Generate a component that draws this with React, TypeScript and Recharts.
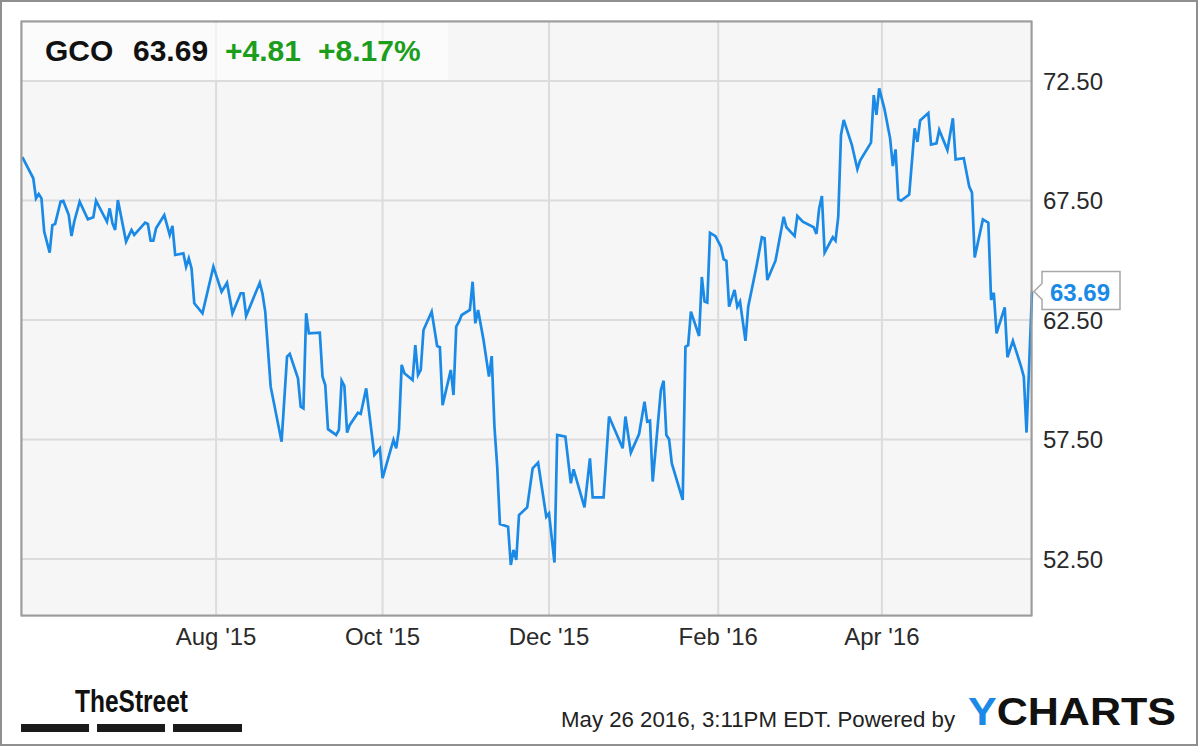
import React from 'react';
import { LineChart, Line, XAxis, YAxis, CartesianGrid, ReferenceDot } from 'recharts';

// days since May 22 2015, one per visible vertex of the price line
const tradingDays = [
  0, 4, 5, 6, 7, 8, 10, 11, 12, 14, 15, 17, 18, 19, 21, 24, 26, 27, 31, 32, 33, 34, 35, 38, 40, 41,
  45, 46, 47, 48, 49, 52, 54, 55, 56, 59, 60, 61, 62, 63, 66, 70, 73, 75, 77, 80, 81, 82, 87, 88, 89,
  91, 95, 97, 98, 101, 102, 103, 104, 105, 109, 110, 111, 112, 115, 116, 117, 118, 119, 120, 123, 124,
  126, 129, 131, 132, 136, 137, 138, 139, 140, 143, 144, 145, 146, 147, 150, 152, 153, 154, 157, 158,
  159, 160, 161, 164, 165, 166, 167, 169, 171, 172, 173, 174, 175, 178, 179, 180, 181, 182, 185, 187,
  189, 192, 193, 195, 196, 199, 201, 202, 206, 208, 209, 213, 215, 220, 221, 223, 226, 228, 229, 230,
  231, 234, 235, 236, 237, 238, 242, 243, 244, 245, 248, 249, 250, 251, 252, 254, 256, 257, 258, 259,
  261, 262, 263, 265, 266, 269, 271, 272, 273, 276, 279, 280, 283, 284, 286, 290, 291, 292, 293, 294,
  297, 298, 299, 300, 301, 304, 306, 307, 311, 312, 313, 314, 316, 318, 319, 320, 321, 322, 325, 327,
  328, 329, 332, 333, 335, 336, 339, 341, 342, 345, 347, 348, 349, 352, 354, 355, 356, 357, 360, 361,
  363, 366, 367, 368, 370,
];

const closePrices = [
  69.31, 68.43, 67.59, 67.77, 67.59, 66.2, 65.32, 66.47, 66.52, 67.45, 67.48, 66.89, 66.01, 66.61, 67.45,
  66.71, 66.8, 67.49, 66.61, 67.17, 66.55, 66.27, 67.52, 65.78, 66.27, 66.06,
  66.57, 66.52, 65.82, 65.82, 66.34, 66.89, 66.06, 66.44, 65.22, 65.29, 64.73, 65.08, 64.66, 63.2, 62.78,
  64.73, 63.68, 64.06, 62.78, 63.62, 63.62, 62.67, 64.06, 63.6, 62.85,
  59.71, 57.41, 60.97, 61.08, 60.06, 58.87, 58.8, 62.78, 61.94, 61.97, 60.13, 59.78, 57.93, 57.69, 57.9,
  59.96, 59.74, 57.79, 58.11, 58.62, 58.57,
  59.64, 56.85, 57.13, 55.88, 57.48, 57.13, 57.9, 60.62, 60.27, 59.99, 61.45, 60.2, 60.41, 62.08, 62.85,
  61.41, 61.36, 58.94, 60.41, 59.36,
  62.22, 62.43, 62.71, 62.92, 64.1, 62.36, 62.92, 61.66, 60.13, 60.99, 58.04, 56.4, 53.96, 53.85, 52.25,
  52.88, 52.46, 54.34, 54.66, 56.29,
  56.53, 54.27, 54.41, 52.35, 57.69, 57.62, 55.67, 56.25, 54.66, 56.71, 55.08, 55.08, 58.46, 57.13, 58.46,
  56.95, 57.73, 59.08, 58.25, 58.29,
  55.74, 59.57, 59.96, 57.69, 57.51, 56.5, 54.97, 61.38, 61.45, 62.85, 61.83, 64.3, 63.27, 63.23, 66.15,
  66.01, 65.57, 65.04, 64.98, 63.06,
  63.76, 63.06, 63.27, 61.63, 63.06, 64.73, 65.96, 65.92, 64.17, 64.98, 66.82, 66.38, 66.01, 66.85, 66.61,
  66.38, 66.1, 67.17, 67.69, 65.32,
  65.96, 65.82, 66.82, 70.24, 70.87, 69.82, 68.81, 69.17, 69.92, 71.91, 71.08, 72.19, 71.29, 70.1, 68.94,
  69.64, 67.55, 67.49, 67.75, 70.52,
  69.95, 70.85, 71.16, 69.84, 69.89, 70.45, 69.61, 70.94, 69.22, 69.27, 68.08, 67.83, 65.12, 66.71, 66.57,
  63.34, 63.64, 61.94, 63.03, 60.94,
  61.63, 60.55, 60.13, 57.79, 63.69,
];

const monthTicks = [71, 132, 193, 255, 315];
const monthLabels = ["Aug '15", "Oct '15", "Dec '15", "Feb '16", "Apr '16"];
const priceTicks = [52.5, 57.5, 62.5, 67.5, 72.5];

const ticker = 'GCO';
const lastPrice = '63.69';
const change = '+4.81';
const changePct = '+8.17%';

const data = tradingDays.map((day, i) => ({ day, price: closePrices[i] }));
const last = data[data.length - 1];

const FONT = '"Liberation Sans", Arial, sans-serif';
const BLUE = '#1a8ae6';

const PriceBadge = (props: any) => {
  const { cx, cy } = props;
  const l = cx + 10;
  const r = cx + 88;
  const d = `M${cx + 2},${cy} L${l},${cy - 8} L${l},${cy - 20} L${r},${cy - 20} L${r},${cy + 18} L${l},${cy + 18} L${l},${cy + 8} Z`;
  return (
    <g>
      <path d={d} fill="#fff" stroke="#a8a8a8" strokeWidth={1.5} />
      <text x={cx + 48} y={cy + 1} textAnchor="middle" dominantBaseline="central" fill={BLUE}
        fontFamily={FONT} fontWeight="bold" fontSize={24}>
        {lastPrice}
      </text>
    </g>
  );
};

export default function App() {
  return (
    <div style={{ position: 'absolute', left: 0, top: 0, width: 1200, height: 747, background: '#fff', fontFamily: FONT }}>
      <LineChart width={1200} height={747} data={data} margin={{ top: 21, left: 21, right: 18, bottom: 91 }}>
        <CartesianGrid fill="#f6f6f6" stroke="#dcdcdc" strokeWidth={2} />
        <XAxis
          dataKey="day"
          type="number"
          domain={[-0.5, 370]}
          ticks={monthTicks}
          tickFormatter={(v: number) => monthLabels[monthTicks.indexOf(v)]}
          axisLine={false}
          tickLine={false}
          tickSize={0}
          tickMargin={12}
          height={40}
          tick={{ fontSize: 24, fill: '#2a2a2a', fontFamily: FONT }}
        />
        <YAxis
          orientation="right"
          type="number"
          domain={[50.115, 75.01]}
          ticks={priceTicks}
          tickFormatter={(v: number) => v.toFixed(2)}
          axisLine={false}
          tickLine={false}
          tickSize={0}
          tickMargin={11}
          width={150}
          tick={{ fontSize: 24, fill: '#2a2a2a', fontFamily: FONT }}
        />
        <Line type="linear" dataKey="price" stroke={BLUE} strokeWidth={2.7} dot={false} isAnimationActive={false} />
        <ReferenceDot x={last.day} y={last.price} r={0} ifOverflow="visible" shape={(p: any) => <PriceBadge {...p} />} />
      </LineChart>

      <svg width={1200} height={747} style={{ position: 'absolute', left: 0, top: 0, pointerEvents: 'none' }}>
        <rect x={1} y={1} width={1196} height={744} fill="none" stroke="#8f8f8f" strokeWidth={2} />
        <rect x={21.5} y={21.5} width={1010} height={594} fill="none" stroke="#9c9c9c" strokeWidth={2} />

        <rect x={23} y={23} width={425} height={57} fill="#fff" opacity={0.6} />
        <g fontFamily={FONT} fontWeight="bold" fontSize={30}>
          <text x={45} y={61} fill="#111">{ticker}</text>
          <text x={133} y={61} fill="#111">{lastPrice}</text>
          <text x={225} y={61} fill="#1c9e1c">{change}</text>
          <text x={318} y={61} fill="#1c9e1c">{changePct}</text>
        </g>

        <text x={75} y={712} fontFamily='"Liberation Sans Narrow", "Liberation Sans", sans-serif' fontWeight="bold"
          fontSize={32} fill="#111" textLength={113} lengthAdjust="spacingAndGlyphs">TheStreet</text>
        <rect x={21} y={724} width={68} height={8} fill="#1a1a1a" />
        <rect x={97} y={724} width={68} height={8} fill="#1a1a1a" />
        <rect x={173} y={724} width={69} height={8} fill="#1a1a1a" />

        <text x={561} y={727} fontFamily={FONT} fontSize={21.5} fill="#222" textLength={394}
          lengthAdjust="spacingAndGlyphs">May 26 2016, 3:11PM EDT. Powered by</text>
        <text x={968} y={725} fontFamily={FONT} fontWeight="bold" fontSize={38} fill="#111" textLength={208}
          lengthAdjust="spacingAndGlyphs">
          <tspan fill={BLUE}>Y</tspan>CHARTS
        </text>
      </svg>
    </div>
  );
}
